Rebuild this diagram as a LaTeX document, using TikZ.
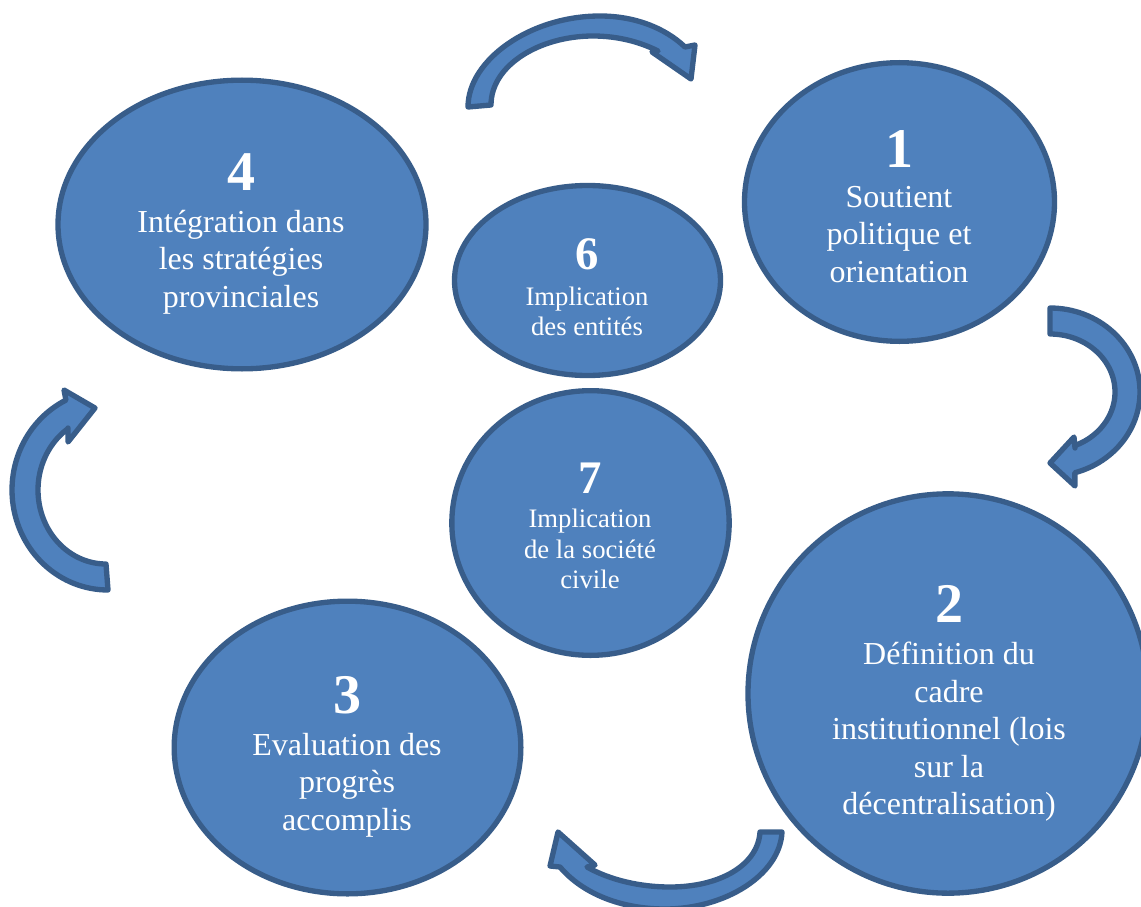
\documentclass[tikz,border=0pt]{standalone}
\usepackage{fontspec}
\setmainfont{Liberation Serif}
\usetikzlibrary{shapes.geometric}
\definecolor{bubfill}{HTML}{4F81BD}
\definecolor{bubline}{HTML}{385D8A}
\newcommand{\bigd}[1]{{\fontsize{42}{42}\selectfont\bfseries #1}}
\newcommand{\smalld}[1]{{\fontsize{35}{35}\selectfont\bfseries #1}}
\tikzset{
  bub/.style={ellipse,draw=bubline,fill=bubfill,line width=4pt,inner sep=0pt},
  bigtxt/.style={text=white,align=center,font=\fontsize{24}{28.1}\selectfont,inner sep=0pt},
  smalltxt/.style={text=white,align=center,font=\fontsize{20}{23}\selectfont,inner sep=0pt},
  arr/.style={draw=bubline,fill=bubfill,line width=4pt,line join=round}
}
\begin{document}
\begin{tikzpicture}[x=0.75pt,y=-0.75pt]
\useasboundingbox (0,0) rectangle (1141,906);
\clip (0,0) rectangle (1141,906);
% bubbles
\node[bub,minimum width=232.5pt,minimum height=209pt] (e1) at (899.5,202) {};
\node[bub,minimum width=300pt,minimum height=299.5pt] (e2) at (948,693.5) {};
\node[bub,minimum width=260pt,minimum height=219.5pt] (e3) at (347.5,747.5) {};
\node[bub,minimum width=276pt,minimum height=216.5pt] (e4) at (242,224.5) {};
\node[bub,minimum width=199.5pt,minimum height=142.5pt] (e6) at (587.5,280.5) {};
\node[bub,minimum width=208pt,minimum height=198.5pt] (e7) at (590.5,523) {};
% texts
\node[bigtxt] (t1) at (899,206.5) {\bigd{1}\\[2pt]Soutient\\politique et\\orientation};
\node[bigtxt] (t2) at (949,703.5) {\bigd{2}\\[3.75pt]Définition du\\cadre\\institutionnel (lois\\sur la\\décentralisation)};
\node[bigtxt] (t3) at (347,757) {\bigd{3}\\[3pt]Evaluation des\\progrès\\accomplis};
\node[bigtxt] (t4) at (241,234) {\bigd{4}\\[3pt]Intégration dans\\les stratégies\\provinciales};
\node[smalltxt] (t6) at (587,287.5) {\smalld{6}\\[3.75pt]Implication\\des entités};
\node[smalltxt] (t7) at (590,526) {\smalld{7}\\[2.6pt]Implication\\de la société\\civile};
% curved arrows
\draw[arr] (468,107) .. controls (468,60) and (530,16) .. (600,16) .. controls (635,16) and (665,28) .. (685,47)
  -- (695,45) -- (691,79) -- (652,52) -- (658,51)
  .. controls (640,42) and (618,36) .. (593,36) .. controls (540,36) and (491,65) .. (491,105) -- cycle;
\draw[arr] plot[domain=-90:74,samples=60] ({1050+90*cos(\x)},{392+84*sin(\x)})
  -- (1075,486) -- (1050,463) -- (1074,437) -- (1075,448)
  -- plot[domain=67.4:-90,samples=60] ({1050+65*cos(\x)},{392+58*sin(\x)}) -- cycle;
\draw[arr] (782,832) .. controls (780,875) and (725,909) .. (665,909) .. controls (620,909) and (582,893) .. (560,867)
  -- (550,866) -- (558,832) -- (595,865) -- (587,867)
  .. controls (610,880) and (640,887) .. (670,887) .. controls (720,887) and (758,865) .. (760,832) -- cycle;
\draw[arr] plot[domain=90:244,samples=60] ({108+96*cos(\x)},{490+100*sin(\x)})
  -- (64,390) -- (95,408) -- (68,442) -- (68,428)
  -- plot[domain=236:90,samples=60] ({106+68*cos(\x)},{490+74*sin(\x)}) -- cycle;
\end{tikzpicture}
\end{document}
